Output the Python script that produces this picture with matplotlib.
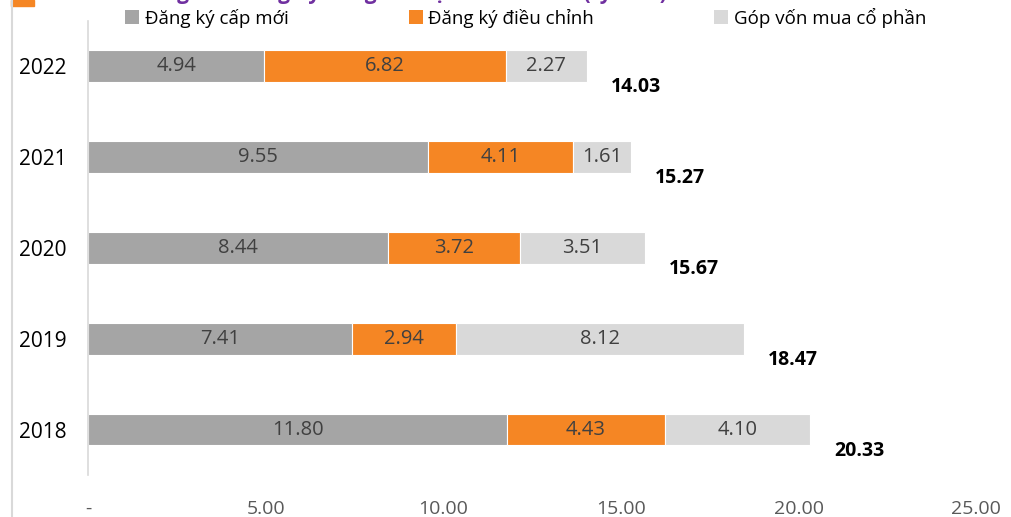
import numpy as np
import matplotlib.pyplot as plt
from matplotlib.patches import Patch, Rectangle

plt.rcParams['font.family'] = ['Open Sans', 'DejaVu Sans']

years = ["2018", "2019", "2020", "2021", "2022"]
cap_moi = [11.80, 7.41, 8.44, 9.55, 4.94]
dieu_chinh = [4.43, 2.94, 3.72, 4.11, 6.82]
gop_von = [4.10, 8.12, 3.51, 1.61, 2.27]
tong = [20.33, 18.47, 15.67, 15.27, 14.03]
series_names = ["Đăng ký cấp mới", "Đăng ký điều chỉnh", "Góp vốn mua cổ phần"]
xticks = [0, 5, 10, 15, 20, 25]
xtick_labels = ["-", "5.00", "10.00", "15.00", "20.00", "25.00"]

colors = ["#A5A5A5", "#F58624", "#D9D9D9"]

fig = plt.figure(figsize=(10.11, 5.17), dpi=100)
ax = fig.add_axes([0.0875, 0.0812, 0.878, 0.879])

y = np.arange(len(years))
left = np.zeros(len(years))
for vals, c in zip([cap_moi, dieu_chinh, gop_von], colors):
  bars = ax.barh(y, vals, left=left, height=0.35, color=c,
                 edgecolor="white", linewidth=0.8)
  for b, v in zip(bars, vals):
    ax.text(b.get_x() + b.get_width() / 2, b.get_y() + b.get_height() / 2,
            "%.2f" % v, ha="center", va="center", fontsize=14.5,
            color="#404040")
  left += np.array(vals)

for i, t in enumerate(tong):
  ax.annotate("%.2f" % t, (t, i), xytext=(24, -21), textcoords="offset pixels",
              ha="left", va="center", fontsize=14, fontweight="bold",
              color="black")

ax.set_xlim(0, 25)
ax.set_ylim(-0.5, 4.5)
ax.set_yticks(y)
ax.set_yticklabels(years, fontsize=15, color="black")
ax.set_xticks(xticks)
ax.set_xticklabels(xtick_labels, fontsize=14, color="#595959")
ax.tick_params(axis="both", length=0)
ax.tick_params(axis="y", pad=16)
ax.tick_params(axis="x", pad=18)
for s in ["top", "right", "bottom"]:
  ax.spines[s].set_visible(False)
ax.spines["left"].set_color("#D9D9D9")
ax.spines["left"].set_linewidth(1.2)

handles = [Patch(facecolor=c, edgecolor="none") for c in colors]
fig.legend(handles, series_names, loc="center", bbox_to_anchor=(0.52, 0.966),
           ncol=3, frameon=False, fontsize=13.5, handlelength=0.75,
           handleheight=0.75, handletextpad=0.3, columnspacing=6.4,
           borderaxespad=0)

# frame line and title fragment at the top
fig.add_artist(plt.Line2D([12 / 1011, 12 / 1011], [0, 1], color="#D9D9D9",
                          lw=1.5, transform=fig.transFigure))
fig.add_artist(Rectangle((11 / 1011, 1 - 6 / 517), 23 / 1011, 6 / 517,
                         color="#F58624", transform=fig.transFigure))
fig.text(0.138, 1 + 1 / 517, "Tổng vốn đăng ký FDI giai đoạn 2018 - 2022 (tỷ USD)",
         ha="left", va="baseline", fontsize=15, fontweight="bold",
         color="#7030A0")

fig.savefig("out.png", dpi=100)
